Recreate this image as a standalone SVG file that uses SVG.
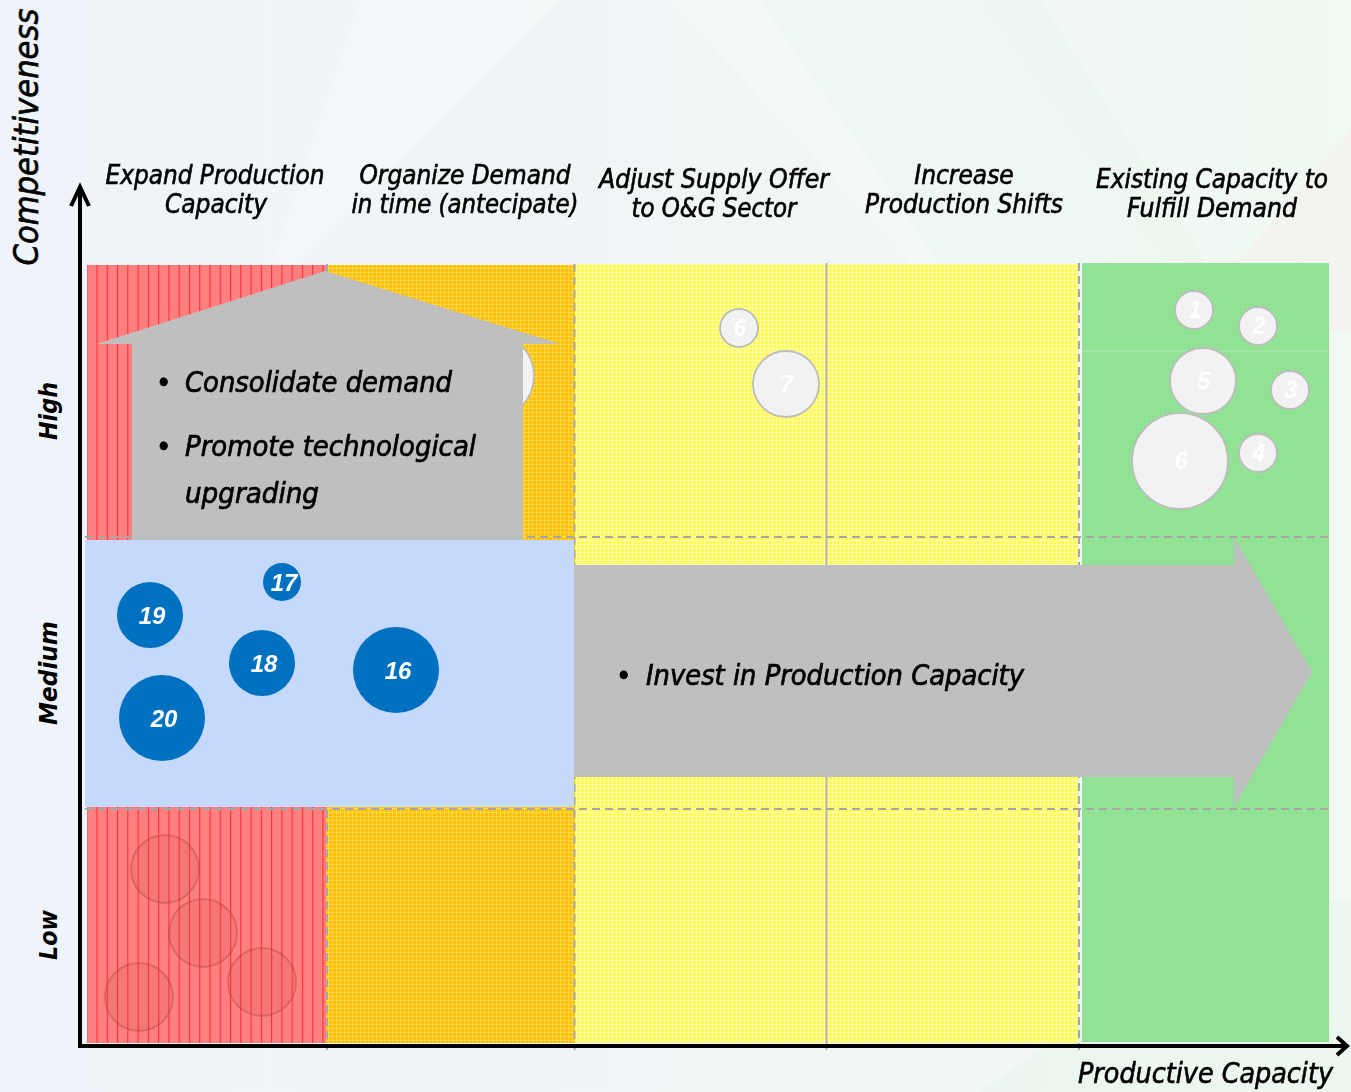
<svg xmlns="http://www.w3.org/2000/svg" width="1351" height="1092" viewBox="0 0 1351 1092">
<style>
.hdr{font-family:"DejaVu Sans Condensed","DejaVu Sans",sans-serif;font-stretch:condensed;font-style:italic;font-size:26px;text-anchor:middle;fill:#000;stroke:#000;stroke-width:0.6}
.ax{font-family:"DejaVu Sans Condensed","DejaVu Sans",sans-serif;font-stretch:condensed;font-style:italic;fill:#000;stroke:#000;stroke-width:0.6}
.lvl{font-family:"DejaVu Sans Condensed","DejaVu Sans",sans-serif;font-stretch:condensed;font-style:italic;font-weight:bold;font-size:25px;text-anchor:middle;fill:#000}
.bul{font-family:"DejaVu Sans Condensed","DejaVu Sans",sans-serif;font-stretch:condensed;font-style:italic;font-size:29px;fill:#000;stroke:#000;stroke-width:0.7}
.dash{stroke:#a6a6a6;stroke-width:2;stroke-dasharray:8 5;fill:none}
.gb{fill:#f2f2f2;stroke:#bdbdbd;stroke-width:1.8}
.gt{font-family:"Liberation Sans",Arial,sans-serif;font-style:italic;font-weight:bold;font-size:23px;fill:#fff;text-anchor:middle}
.bb{fill:#0070c0}
.bt{font-family:"Liberation Sans",Arial,sans-serif;font-style:italic;font-weight:bold;font-size:24px;fill:#fff;text-anchor:middle}
.rb{fill:#c85050;fill-opacity:.18;stroke:#a04040;stroke-opacity:.35;stroke-width:2}
.shape{fill:#bfbfbf}
</style>
<defs>
<linearGradient id="bg" x1="0" y1="0" x2="1" y2="0">
<stop offset="0" stop-color="#eef4f9"/>
<stop offset="0.5" stop-color="#f0f6f6"/>
<stop offset="1" stop-color="#f1f9f3"/>
</linearGradient>
<pattern id="redP" patternUnits="userSpaceOnUse" x="96.5" y="0" width="10.27" height="8">
<rect width="10.27" height="8" fill="#ff8080"/>
<line x1="0.5" y1="0" x2="0.5" y2="8" stroke="#ff3030" stroke-width="1.2"/>
</pattern>
<pattern id="orP" patternUnits="userSpaceOnUse" width="4" height="4">
<rect width="4" height="4" fill="#ffc000"/>
<path d="M0 0.5H4M0.5 0V4" stroke="#ffd850" stroke-width="1"/>
</pattern>
<pattern id="yeP" patternUnits="userSpaceOnUse" width="4" height="4">
<rect width="4" height="4" fill="#ffff4a"/>
<path d="M0 0.5H4M0.5 0V4" stroke="#fffab8" stroke-width="1"/>
</pattern>
<pattern id="grP" patternUnits="userSpaceOnUse" width="4" height="4">
<rect width="4" height="4" fill="#93e397"/>
<rect width="2" height="2" fill="#8fdf93"/>
</pattern>
</defs>

<!-- background -->
<rect width="1351" height="1092" fill="url(#bg)"/>
<g id="watermark" opacity="0.6">
<polygon points="360,0 980,0 1310,470 1100,470 670,0 560,0 260,300" fill="#ffffff" opacity="0.45"/>
<polygon points="760,0 1040,0 1320,440 1060,440" fill="#e6f6ea" opacity="0.5"/>
<polygon points="1351,130 1351,330 1180,330" fill="#fde8e8" opacity="0.5"/>
<polygon points="980,1092 1351,1092 1351,900 1250,900" fill="#e3f5e6" opacity="0.5"/>
</g>

<!-- columns -->
<g id="columns">
<rect x="87" y="265" width="239" height="778" fill="url(#redP)"/>
<rect x="326" y="265" width="249" height="778" fill="url(#orP)"/>
<rect x="575" y="264" width="251" height="779" fill="url(#yeP)"/>
<rect x="827" y="264" width="251" height="779" fill="url(#yeP)"/>
<rect x="1082" y="263" width="247" height="779" fill="url(#grP)"/>
<line x1="575" y1="351" x2="1329" y2="351" stroke="#ffffff" stroke-opacity="0.3" stroke-width="1"/>
</g>

<!-- grid lines -->
<g id="grid">
<line class="dash" x1="327" y1="264" x2="327" y2="1050"/>
<line class="dash" x1="574.5" y1="264" x2="574.5" y2="1050"/>
<line x1="826.5" y1="263" x2="826.5" y2="1050" stroke="#b3b3b3" stroke-width="2"/>
<line class="dash" x1="1079" y1="263" x2="1079" y2="1050"/>
<line class="dash" x1="85" y1="537" x2="1330" y2="537"/>
<line class="dash" x1="85" y1="809" x2="1330" y2="809"/>
</g>

<!-- low region faint bubbles -->
<g id="low-bubbles">
<circle class="rb" cx="165" cy="869" r="34"/>
<circle class="rb" cx="203" cy="933" r="34"/>
<circle class="rb" cx="139" cy="997" r="34"/>
<circle class="rb" cx="262" cy="982" r="34"/>
</g>

<!-- gray bubbles -->
<g id="node-hidden"><circle class="gb" cx="491" cy="376" r="43"/></g>
<g id="node-y6"><circle class="gb" cx="739" cy="328" r="19"/><text class="gt" x="740" y="336">6</text></g>
<g id="node-y7"><circle class="gb" cx="786" cy="384" r="33"/><text class="gt" x="787" y="392">7</text></g>
<g id="node-g1"><circle class="gb" cx="1194" cy="310" r="19"/><text class="gt" x="1195" y="318">1</text></g>
<g id="node-g2"><circle class="gb" cx="1258" cy="326" r="19"/><text class="gt" x="1259" y="334">2</text></g>
<g id="node-g5"><circle class="gb" cx="1203" cy="381" r="33"/><text class="gt" x="1204" y="389">5</text></g>
<g id="node-g3"><circle class="gb" cx="1290" cy="390" r="19"/><text class="gt" x="1291" y="398">3</text></g>
<g id="node-g6"><circle class="gb" cx="1180" cy="461" r="48"/><text class="gt" x="1181" y="469">6</text></g>
<g id="node-g4"><circle class="gb" cx="1258" cy="453" r="19"/><text class="gt" x="1259" y="461">4</text></g>

<!-- house arrow -->
<g id="node-house">
<polygon class="shape" points="325,271 560,344 523,344 523,540 132,540 132,344 97,344"/>
<text class="bul" x="156" y="392">•</text>
<text class="bul" x="185" y="392" textLength="267" lengthAdjust="spacingAndGlyphs">Consolidate demand</text>
<text class="bul" x="156" y="456">•</text>
<text class="bul" x="185" y="456" textLength="291" lengthAdjust="spacingAndGlyphs">Promote technological</text>
<text class="bul" x="185" y="503" textLength="134" lengthAdjust="spacingAndGlyphs">upgrading</text>
</g>

<!-- blue medium band -->
<g id="node-blue">
<rect x="85" y="540" width="489" height="267" fill="#c5d9fc"/>
</g>

<!-- right arrow -->
<g id="node-arrow">
<polygon class="shape" points="574,565 1234,565 1234,537 1312,672 1234,807 1234,777 574,777"/>
<text class="bul" x="616" y="685">•</text>
<text class="bul" x="646" y="685" textLength="378" lengthAdjust="spacingAndGlyphs">Invest in Production Capacity</text>
</g>

<!-- blue bubbles -->
<g id="node-19"><circle class="bb" cx="150" cy="615" r="33"/><text class="bt" x="152" y="624">19</text></g>
<g id="node-17"><circle class="bb" cx="282" cy="582" r="19"/><text class="bt" x="284" y="591">17</text></g>
<g id="node-18"><circle class="bb" cx="262" cy="663" r="33"/><text class="bt" x="264" y="672">18</text></g>
<g id="node-20"><circle class="bb" cx="162" cy="718" r="43"/><text class="bt" x="164" y="727">20</text></g>
<g id="node-16"><circle class="bb" cx="396" cy="670" r="43"/><text class="bt" x="398" y="679">16</text></g>

<!-- axes -->
<g id="connectors" fill="none" stroke="#000" stroke-width="4">
<line x1="80" y1="188" x2="80" y2="1048"/>
<polyline points="71,206 80,187 89,206" stroke-linejoin="miter"/>
<line x1="78" y1="1046" x2="1346" y2="1046"/>
<polyline points="1337,1037 1347,1046 1337,1055"/>
</g>

<!-- headers -->
<g id="headers">
<text class="hdr" x="215" y="184" textLength="219" lengthAdjust="spacingAndGlyphs">Expand Production</text>
<text class="hdr" x="216" y="213">Capacity</text>
<text class="hdr" x="465" y="184" textLength="211" lengthAdjust="spacingAndGlyphs">Organize Demand</text>
<text class="hdr" x="465" y="213" textLength="227" lengthAdjust="spacingAndGlyphs">in time (antecipate)</text>
<text class="hdr" x="714" y="188" textLength="230" lengthAdjust="spacingAndGlyphs">Adjust Supply Offer</text>
<text class="hdr" x="714" y="217" textLength="165" lengthAdjust="spacingAndGlyphs">to O&amp;G Sector</text>
<text class="hdr" x="964" y="184">Increase</text>
<text class="hdr" x="964" y="213" textLength="198" lengthAdjust="spacingAndGlyphs">Production Shifts</text>
<text class="hdr" x="1212" y="188" textLength="232" lengthAdjust="spacingAndGlyphs">Existing Capacity to</text>
<text class="hdr" x="1212" y="217" textLength="170" lengthAdjust="spacingAndGlyphs">Fulfill Demand</text>
</g>

<!-- axis labels -->
<g id="axis-labels">
<text class="ax" font-size="34" text-anchor="middle" transform="translate(38,137) rotate(-90)" textLength="257" lengthAdjust="spacingAndGlyphs">Competitiveness</text>
<text class="ax" font-size="28" text-anchor="end" x="1333" y="1083" textLength="255" lengthAdjust="spacingAndGlyphs">Productive Capacity</text>
<text class="lvl" transform="translate(57,411) rotate(-90)" textLength="58" lengthAdjust="spacingAndGlyphs">High</text>
<text class="lvl" transform="translate(57,673) rotate(-90)" textLength="104" lengthAdjust="spacingAndGlyphs">Medium</text>
<text class="lvl" transform="translate(57,935) rotate(-90)" textLength="50" lengthAdjust="spacingAndGlyphs">Low</text>
</g>
</svg>
